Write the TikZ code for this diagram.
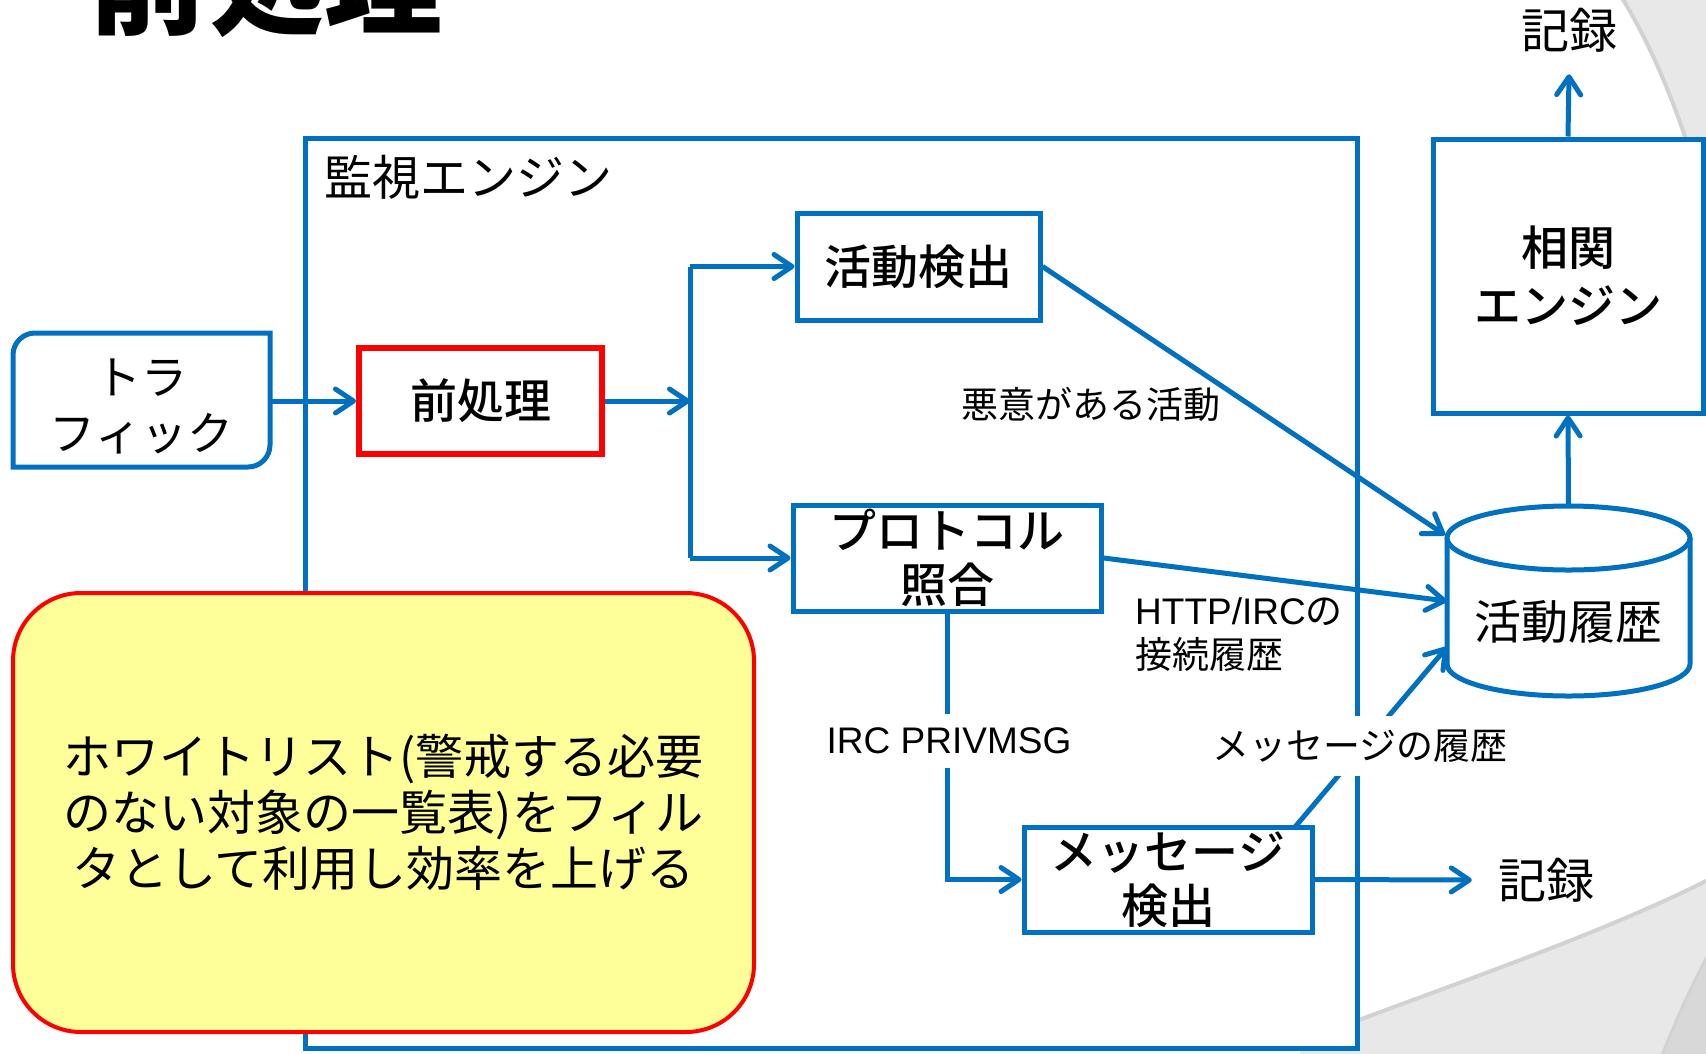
\documentclass[tikz,border=0pt]{standalone}
\usepackage{fontspec}
\setmainfont{Noto Sans CJK JP}[BoldFont={Noto Sans CJK JP Medium}]
\newfontfamily\titlefont{Noto Sans CJK JP}
\newfontfamily\lat{Liberation Sans}
\usetikzlibrary{arrows.meta}
\definecolor{mblue}{HTML}{0070C0}
\definecolor{myel}{HTML}{FFFF99}
\definecolor{bggrey}{HTML}{E8E8E8}
\definecolor{bgedge}{HTML}{D2D2D2}
\tikzset{
  bline/.style={draw=mblue, line width=5pt},
  box/.style={draw=mblue, line width=5pt, fill=white, inner sep=0pt, align=center,
    font=\fontsize{47}{54}\selectfont\bfseries},
  conn/.style={draw=mblue, line width=5pt, -{Straight Barb[length=18pt,width=24pt,round]}},
  plain/.style={draw=mblue, line width=5pt},
  lbl/.style={font=\fontsize{37}{44}\selectfont, inner sep=2pt},
  big/.style={font=\fontsize{48}{56}\selectfont, inner sep=0pt},
}
\begin{document}
\begin{tikzpicture}[x=1pt,y=-1pt]
\useasboundingbox (0,0) rectangle (1706,1053);
\clip (0,0) rectangle (1706,1053);
% background swooshes
\fill[bggrey] (1622,-2) .. controls (1660,60) and (1690,140) .. (1712,230) -- (1712,-5) -- cycle;
\draw[bgedge, line width=4pt] (1622,-2) .. controls (1660,60) and (1690,140) .. (1712,230);
\fill[bggrey] (1300,1042) .. controls (1450,985) and (1600,935) .. (1712,878) -- (1712,1060) -- (1300,1060) -- cycle;
\draw[bgedge, line width=4pt] (1300,1042) .. controls (1450,985) and (1600,935) .. (1712,878);
\fill[bgedge!70!bggrey] (1660,1060) .. controls (1678,1015) and (1694,980) .. (1712,948) -- (1712,1060) -- cycle;
\draw[bgedge, line width=3pt] (1660,1060) .. controls (1678,1015) and (1694,980) .. (1712,948);

% title
\node[anchor=base west, font=\titlefont\bfseries\fontsize{118}{130}\selectfont, inner sep=0pt] (title) at (88,25) {前処理};

% monitoring engine frame
\node[draw=mblue, line width=5pt, fill=white, minimum width=1052pt, minimum height=910pt, inner sep=0pt] (eng) at (831,593) {};
\node[anchor=west, font=\fontsize{48}{54}\selectfont, inner sep=0pt] (englbl) at (324,177) {監視エンジン};

% traffic
\node[font=\fontsize{46}{56}\selectfont, align=center, minimum width=257pt, minimum height=134pt, inner sep=0pt] (traffic) at (141.5,406) {トラ\\フィック};
\draw[bline] (13,467) -- (13,355) arc[start angle=180,end angle=90,radius=22pt] -- (270,333) -- (270,445) arc[start angle=0,end angle=-90,radius=22pt] -- cycle;

% boxes
\node[box, draw=red, line width=6pt, minimum width=243pt, minimum height=106pt] (pre) at (480.5,401) {前処理};
\node[box, minimum width=243pt, minimum height=107pt] (act) at (918.5,266.5) {活動検出};
\node[box, minimum width=308pt, minimum height=106pt] (proto) at (947,558) {プロトコル\\照合};
\node[box, minimum width=288pt, minimum height=105pt] (msg) at (1168,879.5) {メッセージ\\検出};
\node[box, minimum width=270pt, minimum height=274pt, font=\fontsize{47}{58}\selectfont\bfseries] (corr) at (1568,276) {相関\\エンジン};

% cylinder
\node[minimum width=243pt, minimum height=190pt, inner sep=0pt] (hist) at (1568.5,601) {};
\fill[white] (1447,538) rectangle (1690,664);
\fill[white] (1568.5,664) ellipse [x radius=121.5pt, y radius=32pt];
\draw[bline] (1447,538) -- (1447,664) arc[start angle=180, end angle=360, x radius=121.5pt, y radius=32pt] -- (1690,538);
\draw[bline, fill=white] (1568.5,538) ellipse [x radius=121.5pt, y radius=32pt];
\node[font=\fontsize{47}{54}\selectfont, inner sep=0pt] (histlbl) at (1568.5,622) {活動履歴};

% outputs
\node[big, inner ysep=22pt] (rec1) at (1569,30) {記録};
\node[big, inner xsep=26pt] (rec2) at (1546,880) {記録};

% helper coordinates
\coordinate (tr) at (270,401);
\coordinate (jm) at (690,401);
\coordinate (jt) at (690,266.5);
\coordinate (jb) at (690,558);
\coordinate (hA) at (1445,535);
\coordinate (hC) at (1447,647);
\coordinate (mA) at (1295,827);

% connectors
\draw[conn] (tr) -- (pre.west);
\draw[conn] (pre.east) -- (jm);
\draw[plain] (jt) -- (jb);
\draw[conn] (jt) -- (act.west);
\draw[conn] (jb) -- (proto.west);
\draw[conn] (act.east) -- (hA);
\draw[conn] (proto.east) -- (hist.west);
\draw[conn] (proto.south) |- (msg.west);
\draw[conn] (mA) -- (hC);
\draw[conn] (msg.east) -- (rec2.west);
\draw[conn] (hist.north) -- (corr.south);
\draw[conn] (corr.north) -- (rec1.south);

% labels
\node[lbl] (mal) at (1091,404) {悪意がある活動};
\node[lbl, align=left, anchor=west] (http) at (1133,635) {{\lat HTTP/IRC}の\\接続履歴};
\node[lbl, fill=white, inner ysep=14pt, inner xsep=6pt, font=\lat\fontsize{37}{44}\selectfont] (irc) at (949,741) {IRC PRIVMSG};
\node[lbl, fill=white, inner ysep=14pt, inner xsep=6pt] (msgh) at (1360,746) {メッセージの履歴};

% whitelist note
\node[draw=red, line width=4pt, fill=myel, rounded corners=68pt, minimum width=741pt, minimum height=439pt, align=center, font=\fontsize{48}{56}\selectfont, inner sep=0pt] (note) at (383.5,812.5) {ホワイトリスト(警戒する必要\\のない対象の一覧表)をフィル\\タとして利用し効率を上げる};
\end{tikzpicture}
\end{document}
